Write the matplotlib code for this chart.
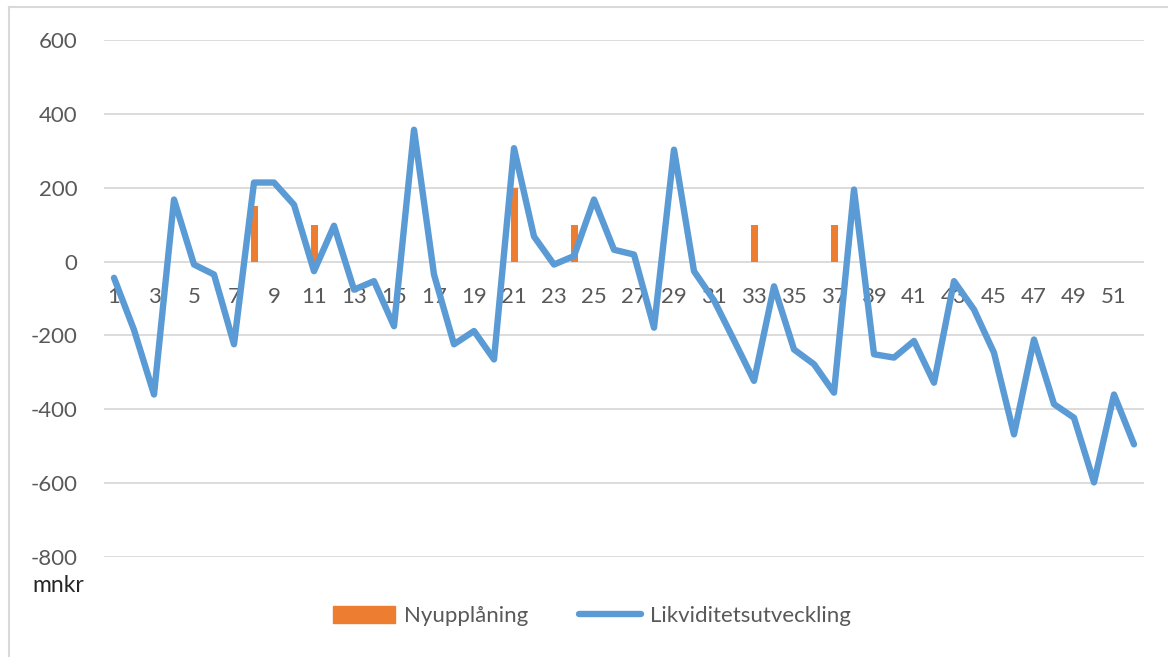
import matplotlib
matplotlib.use("Agg")
import matplotlib.pyplot as plt
from matplotlib.patches import Rectangle

plt.rcParams['font.family'] = ['Lato', 'DejaVu Sans']

weeks = list(range(1, 53))
likviditet = [-44, -185, -360, 168, -8, -35, -224, 214, 214, 154,
              -26, 97, -76, -53, -175, 357, -35, -224, -188, -265,
              307, 68, -8, 15, 168, 32, 19, -179, 303, -26,
              -105, -213, -323, -67, -238, -278, -355, 195, -251, -260,
              -215, -328, -53, -130, -247, -468, -211, -386, -423, -598,
              -360, -495]
nyupplaning_weeks = [8, 11, 21, 24, 33, 37]
nyupplaning_values = [150, 100, 200, 100, 100, 100]
yticks = [-800, -600, -400, -200, 0, 200, 400, 600]
xtick_labels = [str(w) for w in weeks if w % 2 == 1]

gray = '#595959'
fs = 16
fig = plt.figure(figsize=(11.68, 6.57), dpi=100)
ax = fig.add_axes([104/1168, 1-557/657, 1040/1168, 517/657])

for y in yticks:
    ax.axhline(y, color='#D9D9D9', lw=1.3, zorder=0)

ax.bar(nyupplaning_weeks, nyupplaning_values, width=0.35, color='#ED7D31', zorder=2)
ax.plot(weeks, likviditet, color='#5B9BD5', lw=4.6, solid_joinstyle='round', solid_capstyle='round', zorder=3)

ax.spines['bottom'].set_position(('data', 0))
for s in ax.spines.values():
    s.set_visible(False)
ax.set_xlim(0.5, 52.5)
ax.set_ylim(-800, 600)
ax.set_yticks(yticks)
ax.set_yticklabels([str(v) for v in yticks], fontsize=fs, color=gray)
ax.tick_params(axis='y', length=0, pad=19)
ax.set_xticks([w for w in weeks if w % 2 == 1])
ax.set_xticklabels(xtick_labels, fontsize=fs, color=gray)
ax.tick_params(axis='x', length=0, pad=18)

fig.text(32/1168, 1-586/657, 'mnkr', fontsize=16.5, color='#262626', va='center', ha='left')

bar_handle = Rectangle((0, 0), 1, 1, color='#ED7D31')
line_handle = plt.Line2D([0], [0], color='#5B9BD5', lw=4.6, solid_capstyle='round')
fig.legend([bar_handle, line_handle], ['Nyupplåning', 'Likviditetsutveckling'],
           loc='center', bbox_to_anchor=(592/1168, 1-616/657), ncol=2, frameon=False,
           fontsize=fs, labelcolor=gray, handlelength=2.8, handleheight=0.8,
           columnspacing=2.3, handletextpad=0.4)

# outer border (top/left visible)
fig.add_artist(plt.Line2D([9/1168, 9/1168], [0, 1-7/657], transform=fig.transFigure, color='#D9D9D9', lw=1.5))
fig.add_artist(plt.Line2D([9/1168, 1], [1-7/657, 1-7/657], transform=fig.transFigure, color='#D9D9D9', lw=1.5))

fig.savefig('out.png', dpi=100, facecolor='white')
